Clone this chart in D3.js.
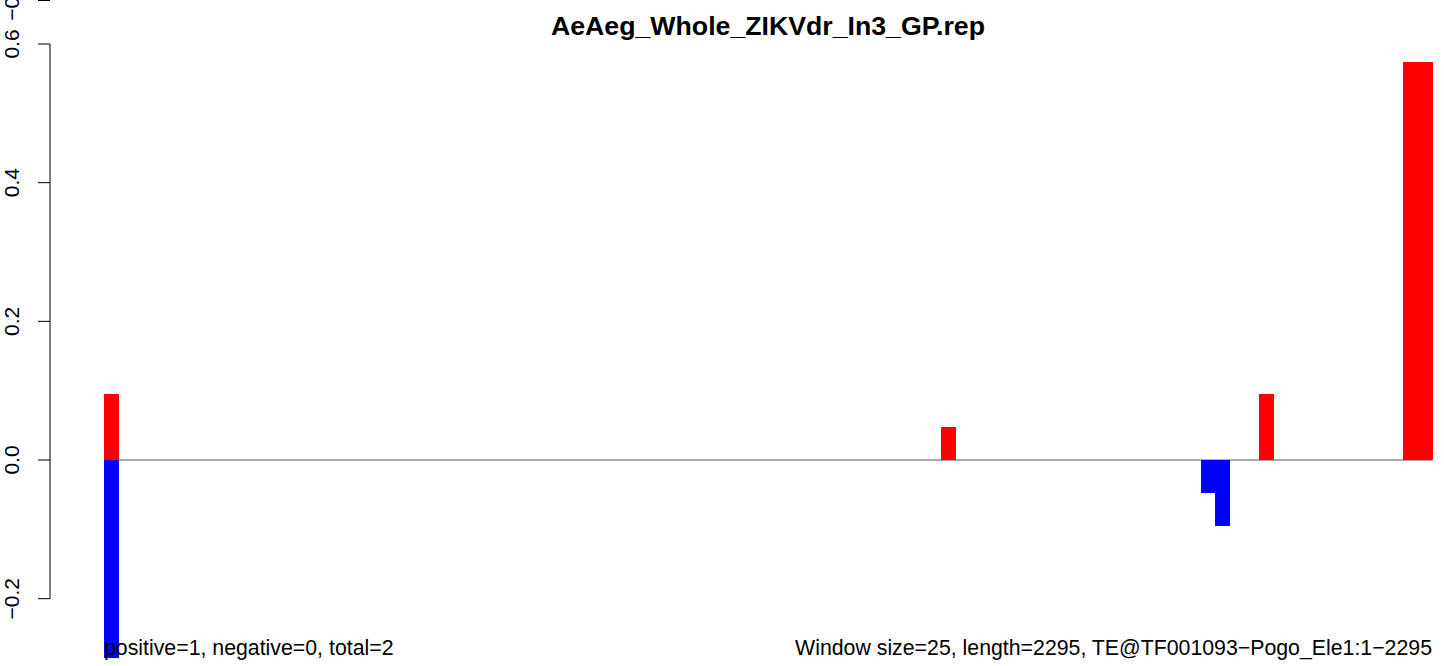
<!DOCTYPE html>
<html>
<head>
<meta charset="utf-8">
<script src="https://cdn.jsdelivr.net/npm/d3@7/dist/d3.min.js"></script>
<style>
  html, body { margin: 0; padding: 0; background: #fff; }
  svg { display: block; }
  text { font-family: "Liberation Sans", Arial, Helvetica, sans-serif; }
</style>
</head>
<body>
<svg id="chart" width="1444" height="666"></svg>
<script>
// ---- data ----
const title = "AeAeg_Whole_ZIKVdr_In3_GP.rep";
const nWindows = 92;               // 2295 bp / window 25
const posWindows = [0, 58, 80, 90, 91];
const posValues  = [0.095, 0.048, 0.095, 0.574, 0.574];
const negWindows = [0, 76, 77];
const negValues  = [-0.286, -0.048, -0.095];
const yTicks = [-0.2, 0.0, 0.2, 0.4, 0.6];
const yTickLabels = ["\u22120.2", "0.0", "0.2", "0.4", "0.6"];
const leftNote = "positive=1, negative=0, total=2";
const rightNote = "Window size=25, length=2295, TE@TF001093\u2212Pogo_Ele1:1\u22122295";

// ---- layout ----
const svg = d3.select("#chart");
const x = d3.scaleLinear().domain([0, nWindows]).range([104, 1432]);
const y = d3.scaleLinear().domain([-0.2, 0.6]).range([598.7, 44]);

// zero line
svg.append("line")
  .attr("x1", x(0)).attr("x2", x(nWindows))
  .attr("y1", y(0)).attr("y2", y(0))
  .attr("stroke", "#555").attr("stroke-width", 1);

// bars
const pos = posWindows.map((w, i) => ({w, v: posValues[i]}));
const neg = negWindows.map((w, i) => ({w, v: negValues[i]}));
svg.append("g").attr("shape-rendering", "crispEdges")
  .selectAll("rect").data(pos).join("rect")
  .attr("x", d => x(d.w)).attr("width", d => x(d.w + 1) - x(d.w) + 0.5)
  .attr("y", d => y(d.v)).attr("height", d => y(0) - y(d.v))
  .attr("fill", "#FF0000");
svg.append("g").attr("shape-rendering", "crispEdges")
  .selectAll("rect").data(neg).join("rect")
  .attr("x", d => x(d.w)).attr("width", d => x(d.w + 1) - x(d.w) + 0.5)
  .attr("y", y(0)).attr("height", d => y(d.v) - y(0))
  .attr("fill", "#0000FF");

// y axis
const axisX = 50;
const ag = svg.append("g").attr("transform", `translate(${axisX},0)`);
ag.append("line")
  .attr("x1", 0).attr("x2", 0)
  .attr("y1", y(yTicks[0])).attr("y2", y(yTicks[yTicks.length - 1]))
  .attr("stroke", "#000").attr("stroke-width", 1);
yTicks.forEach((t, i) => {
  ag.append("line").attr("x1", -12).attr("x2", 0)
    .attr("y1", y(t)).attr("y2", y(t)).attr("stroke", "#000");
  ag.append("text")
    .attr("transform", `translate(-31,${y(t)}) rotate(-90)`)
    .attr("text-anchor", "middle")
    .attr("font-size", 21)
    .text(yTickLabels[i]);
});
// residual tick of a neighbouring panel at the very top edge
ag.append("line").attr("x1", -12).attr("x2", 0).attr("y1", 0.5).attr("y2", 0.5).attr("stroke", "#000");
ag.append("text")
  .attr("transform", `translate(-31,0) rotate(-90)`)
  .attr("text-anchor", "middle").attr("font-size", 21)
  .text("\u22120.6");

// title
svg.append("text")
  .attr("x", (x(0) + x(nWindows)) / 2).attr("y", 35)
  .attr("text-anchor", "middle")
  .attr("font-size", 26.7).attr("font-weight", "bold")
  .text(title);

// bottom notes
svg.append("text").attr("x", x(0)).attr("y", 655)
  .attr("font-size", 21.3).text(leftNote);
svg.append("text").attr("x", x(nWindows)).attr("y", 655)
  .attr("text-anchor", "end").attr("font-size", 21.3).text(rightNote);
</script>
</body>
</html>
